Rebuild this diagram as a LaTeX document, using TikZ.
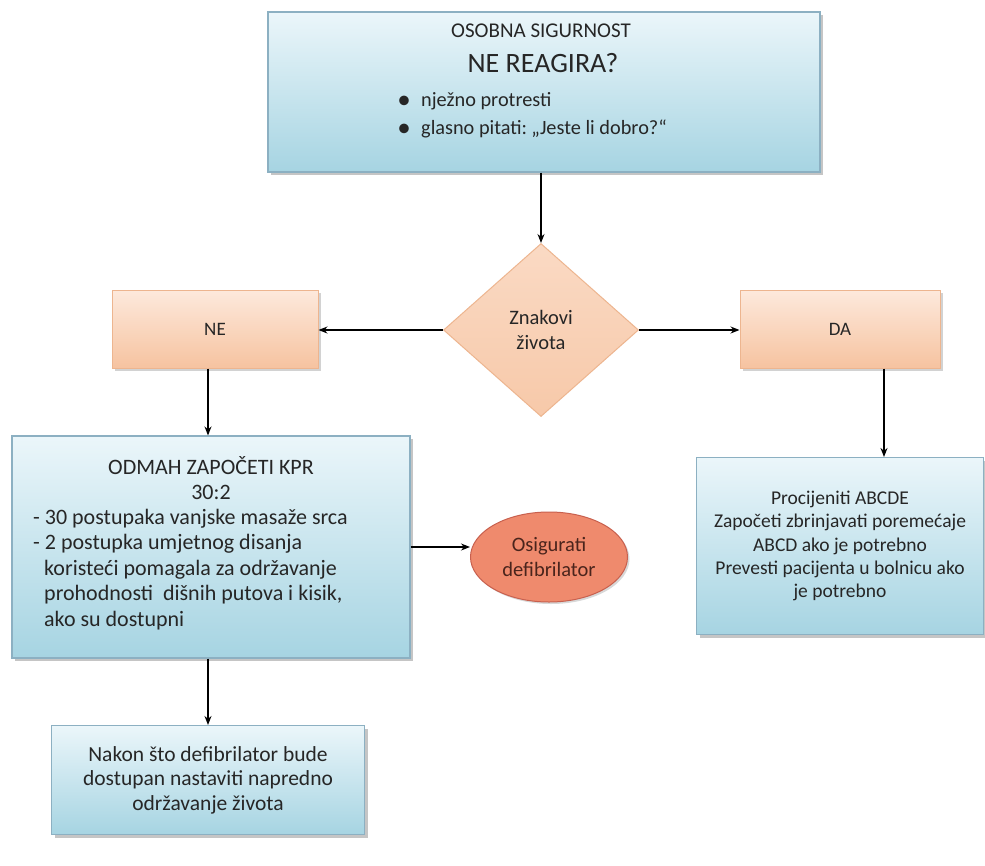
\documentclass[tikz,border=0pt]{standalone}
\usepackage{fontspec}
\setmainfont{Carlito}
\usetikzlibrary{shapes.geometric,shadows,arrows.meta}
\definecolor{txt}{HTML}{262626}
\definecolor{elltxt}{HTML}{4A241C}
\definecolor{bluetop}{HTML}{EBF6FA}
\definecolor{bluebot}{HTML}{A6D4E2}
\definecolor{blueline}{HTML}{8CB0C2}
\definecolor{peachtop}{HTML}{FDE9DC}
\definecolor{peachbot}{HTML}{F6C3A0}
\definecolor{peachline}{HTML}{EDB58F}
\definecolor{ellfill}{HTML}{EF8A6D}
\definecolor{ellline}{HTML}{C8604E}
\tikzset{
  bluebox/.style={draw=blueline, line width=1.1pt, top color=bluetop, bottom color=bluebot,
    drop shadow={opacity=0.45, shadow xshift=3pt, shadow yshift=-3pt}, inner sep=0pt, text=txt, align=center},
  peachbox/.style={draw=peachline, line width=1pt, top color=peachtop, bottom color=peachbot,
    drop shadow={opacity=0.35, shadow xshift=3pt, shadow yshift=-3pt}, inner sep=0pt, text=txt, align=center},
  txtline/.style={text=txt, inner sep=0pt, anchor=base west},
  txtmid/.style={text=txt, inner sep=0pt, anchor=base},
  arr/.style={-{Stealth[length=9pt,width=7pt]}, line width=1.3pt, black}
}
\begin{document}
\begin{tikzpicture}[x=1pt,y=-1pt]
\useasboundingbox[fill=white] (0,0) rectangle (985,865);

% top box
\node[bluebox, minimum width=552pt, minimum height=160pt] (top) at (544,92) {};
\node[txtmid, font=\fontsize{21}{24}\selectfont] (t1) at (541,37) {OSOBNA SIGURNOST};
\node[txtmid, font=\fontsize{28}{30}\selectfont] (t2) at (543,72) {NE REAGIRA?};
\node[txtmid, font=\fontsize{27}{30}\selectfont] (b1) at (404,108) {•};
\node[txtmid, font=\fontsize{27}{30}\selectfont] (b2) at (404,136) {•};
\node[txtline, font=\fontsize{20.3}{22}\selectfont] (t3) at (421,106) {nježno protresti};
\node[txtline, font=\fontsize{20.3}{22}\selectfont] (t4) at (421,134) {glasno pitati:\kern-0.5pt\ „Jeste li dobro?“};

% diamond
\node[diamond, draw=peachline, line width=1pt, top color=peachtop!60!peachbot, bottom color=peachbot!85!peachtop,
  minimum width=195pt, minimum height=173pt, inner sep=0pt, text=txt, align=center,
  font=\fontsize{20.5}{24.5}\selectfont] (dia) at (541,330) {Znakovi\\života};

% NE / DA
\node[peachbox, minimum width=206pt, minimum height=78pt, font=\fontsize{19}{20}\selectfont] (ne) at (215,329) {NE};
\node[peachbox, minimum width=200pt, minimum height=78pt, font=\fontsize{19}{20}\selectfont] (da) at (840,329) {DA};

% KPR box
\node[bluebox, minimum width=398pt, minimum height=222pt] (kpr) at (211,547) {};
\node[txtmid, font=\fontsize{22}{24}\selectfont] (k1) at (211,474) {ODMAH ZAPOČETI KPR};
\node[txtmid, font=\fontsize{22}{24}\selectfont] (k2) at (211,499) {30:2};
\node[txtline, font=\fontsize{22}{24}\selectfont] (k3) at (33,524) {- 30 postupaka vanjske masaže srca};
\node[txtline, font=\fontsize{22}{24}\selectfont] (k4) at (33,549.5) {- 2 postupka umjetnog disanja};
\node[txtline, font=\fontsize{22}{24}\selectfont] (k5) at (44,575) {koristeći pomagala za održavanje};
\node[txtline, font=\fontsize{22}{24}\selectfont] (k6) at (44,600.5) {prohodnosti \ dišnih putova i kisik,};
\node[txtline, font=\fontsize{22}{24}\selectfont] (k7) at (44,626) {ako su dostupni};

% ellipse
\node[ellipse, draw=ellline, line width=1pt, fill=ellfill, minimum width=157pt, minimum height=90pt,
  inner sep=0pt, text=elltxt, align=center, font=\fontsize{20.5}{25}\selectfont,
  drop shadow={opacity=0.3, shadow xshift=2pt, shadow yshift=-2pt}] (ell) at (549,557) {Osigurati\\defibrilator};

% right box
\node[bluebox, minimum width=287pt, minimum height=177pt, font=\fontsize{19.5}{23.4}\selectfont] (abc) at (840,546)
  {Procijeniti ABCDE\\Započeti zbrinjavati poremećaje\\ABCD ako je potrebno\\Prevesti pacijenta u bolnicu ako\\je potrebno};

% bottom box
\node[bluebox, minimum width=313pt, minimum height=109pt, font=\fontsize{21.5}{24.5}\selectfont] (nak) at (208,780)
  {Nakon što defibrilator bude\\dostupan nastaviti napredno\\održavanje života};

% connectors
\draw[arr] (dia.north |- top.south) -- (dia.north);
\draw[arr] (dia.west) -- (dia.west -| ne.east);
\draw[arr] (dia.east) -- (dia.east -| da.west);
\draw[arr] (nak.north |- ne.south) -- (nak.north |- kpr.north);
\path ([xshift=44pt]da.south) coordinate (dax);
\draw[arr] (dax) -- (dax |- abc.north);
\draw[arr] (kpr.east) -- (kpr.east -| ell.west);
\draw[arr] (nak.north |- kpr.south) -- (nak.north);
\end{tikzpicture}
\end{document}
